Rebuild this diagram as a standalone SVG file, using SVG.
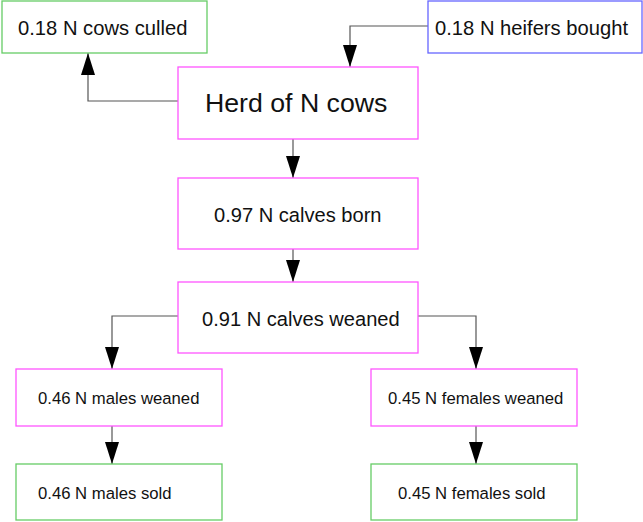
<svg xmlns="http://www.w3.org/2000/svg" width="643" height="522" viewBox="0 0 643 522">
<defs>
<style>
.box{fill:#fff;stroke-width:1.3}
.m{stroke:#ff55ff}
.g{stroke:#66cc66}
.b{stroke:#6666ff}
text{font-family:"Liberation Sans",Arial,sans-serif;fill:#111}
.c{fill:none;stroke:#555;stroke-width:1.2}
</style>
<marker id="ah" markerUnits="userSpaceOnUse" markerWidth="22" markerHeight="14" refX="22" refY="7" orient="auto">
<path d="M0,0 L22,7 L0,14 Z" fill="#000"/>
</marker>
</defs>
<rect width="643" height="522" fill="#fff"/>
<g id="connectors">
<path class="c" d="M178,101 H88 V53" marker-end="url(#ah)"/>
<path class="c" d="M428,26 H350 V67" marker-end="url(#ah)"/>
<path class="c" d="M293,139 V178" marker-end="url(#ah)"/>
<path class="c" d="M293,249 V282" marker-end="url(#ah)"/>
<path class="c" d="M178,316 H112 V369" marker-end="url(#ah)"/>
<path class="c" d="M418,316 H476 V369" marker-end="url(#ah)"/>
<path class="c" d="M112,426 V464" marker-end="url(#ah)"/>
<path class="c" d="M476,426 V464" marker-end="url(#ah)"/>
</g>
<g id="culled">
<rect class="box g" x="2" y="1" width="205" height="52"/>
<text x="18" y="35" font-size="20.2">0.18 N cows culled</text>
</g>
<g id="heifers">
<rect class="box b" x="428" y="1" width="214" height="52"/>
<text x="435" y="35" font-size="20.2">0.18 N heifers bought</text>
</g>
<g id="herd">
<rect class="box m" x="178" y="67" width="240" height="72"/>
<text x="205" y="112" font-size="26.7">Herd of N cows</text>
</g>
<g id="born">
<rect class="box m" x="178" y="178" width="240" height="71"/>
<text x="214" y="222" font-size="20.1">0.97 N calves born</text>
</g>
<g id="weaned">
<rect class="box m" x="178" y="282" width="240" height="71"/>
<text x="202" y="326" font-size="20.1">0.91 N calves weaned</text>
</g>
<g id="males_weaned">
<rect class="box m" x="16" y="369" width="206" height="57"/>
<text x="38" y="404" font-size="16.7">0.46 N males weaned</text>
</g>
<g id="females_weaned">
<rect class="box m" x="371" y="369" width="206" height="57"/>
<text x="388" y="404" font-size="16.7">0.45 N females weaned</text>
</g>
<g id="males_sold">
<rect class="box g" x="16" y="464" width="206" height="56"/>
<text x="38" y="499" font-size="16.7">0.46 N males sold</text>
</g>
<g id="females_sold">
<rect class="box g" x="371" y="464" width="206" height="56"/>
<text x="398" y="499" font-size="16.7">0.45 N females sold</text>
</g>
</svg>
